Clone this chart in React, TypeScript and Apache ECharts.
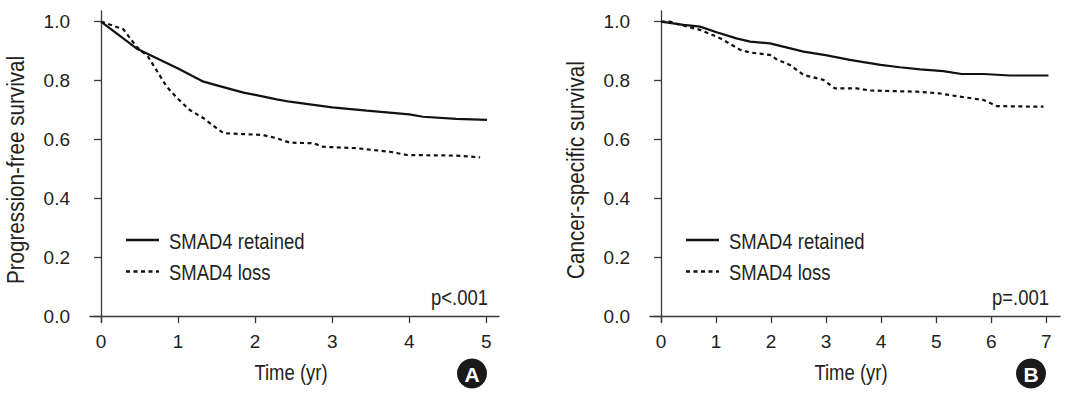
import React, { useEffect, useRef } from "react";
import * as echarts from "echarts";

// Panel A: progression-free survival (years)
const pfsRetainedX = [0, 0.46, 1.0, 1.33, 1.54, 1.85, 2.0, 2.28, 2.45, 2.71, 3.0, 3.45, 4.0, 4.18, 4.61, 5.01];
const pfsRetainedY = [1.0, 0.909, 0.841, 0.796, 0.781, 0.759, 0.751, 0.736, 0.728, 0.719, 0.709, 0.698, 0.685, 0.677, 0.67, 0.666];
const pfsLossX = [0, 0.29, 0.46, 0.61, 0.85, 0.99, 1.15, 1.33, 1.5, 1.59, 1.85, 2.1, 2.28, 2.45, 2.76, 2.88, 3.32, 3.75, 3.97, 4.61, 4.92];
const pfsLossY = [1.0, 0.974, 0.915, 0.881, 0.78, 0.74, 0.7, 0.672, 0.638, 0.621, 0.618, 0.615, 0.604, 0.589, 0.587, 0.575, 0.57, 0.558, 0.547, 0.545, 0.539];

// Panel B: cancer-specific survival (years)
const cssRetainedX = [0, 0.41, 0.71, 1.01, 1.37, 1.62, 1.98, 2.22, 2.59, 2.99, 3.43, 3.99, 4.34, 4.71, 5.13, 5.46, 5.86, 6.34, 7.04];
const cssRetainedY = [1.0, 0.989, 0.983, 0.964, 0.943, 0.932, 0.926, 0.915, 0.898, 0.886, 0.87, 0.853, 0.845, 0.838, 0.832, 0.822, 0.822, 0.817, 0.817];
const cssLossX = [0, 0.16, 0.35, 0.71, 1.01, 1.13, 1.44, 1.62, 1.98, 2.1, 2.34, 2.59, 2.95, 3.16, 3.56, 3.8, 4.65, 5.07, 5.43, 5.86, 6.1, 6.95];
const cssLossY = [1.0, 1.0, 0.989, 0.972, 0.949, 0.938, 0.904, 0.895, 0.887, 0.872, 0.853, 0.819, 0.802, 0.773, 0.773, 0.766, 0.762, 0.756, 0.745, 0.734, 0.713, 0.711];

const xTicksA = [0, 1, 2, 3, 4, 5];
const xTicksB = [0, 1, 2, 3, 4, 5, 6, 7];
const yTicks = [0, 0.2, 0.4, 0.6, 0.8, 1.0];

const seriesNames = ["SMAD4 retained", "SMAD4 loss"];
const yNames = ["Progression-free survival", "Cancer-specific survival"];
const xName = "Time (yr)";
const pValues = ["p<.001", "p=.001"];
const panelLabels = ["A", "B"];

const FONT = "'Liberation Sans', Arial, Helvetica, sans-serif";
const TXT = "#231f20";
const AX = "#3a3a3a";
const SX = 0.84; // horizontal condensing of label text

const zip = (xs: number[], ys: number[]) => xs.map((x, i) => [x, ys[i]]);

export default function App() {
  const ref = useRef<HTMLDivElement>(null);
  useEffect(() => {
    if (!ref.current) return;
    const chart = echarts.init(ref.current, undefined, { renderer: "svg" });

    const xAxisBase = (ticks: number[], min: number, max: number, gridIndex: number) => ({
      type: "value",
      gridIndex,
      min,
      max,
      axisLine: { show: true, onZero: true, lineStyle: { color: AX, width: 1.3 } },
      axisTick: { show: true, length: 7, customValues: ticks, lineStyle: { color: AX, width: 1.3 } },
      axisLabel: {
        customValues: ticks,
        margin: 10,
        fontSize: 19,
        fontFamily: FONT,
        color: TXT,
        formatter: (v: number) => String(Math.round(v)),
      },
      splitLine: { show: false },
    });
    const yAxisBase = (gridIndex: number) => ({
      type: "value",
      gridIndex,
      min: -0.02,
      max: 1.036,
      axisLine: { show: true, onZero: true, lineStyle: { color: AX, width: 1.3 } },
      axisTick: { show: true, length: 7, customValues: yTicks, lineStyle: { color: AX, width: 1.3 } },
      axisLabel: {
        customValues: yTicks,
        margin: 20,
        fontSize: 19,
        fontFamily: FONT,
        color: TXT,
        formatter: (v: number) => v.toFixed(1),
      },
      splitLine: { show: false },
    });

    const DASH = [4, 3.5];
    const lineSolid = { color: "#111", width: 2.2, type: "solid" };
    const lineDash = { color: "#111", width: 2.2, type: DASH };

    const mkSeries = (name: string, data: number[][], idx: number, dashed: boolean) => ({
      type: "line",
      name,
      xAxisIndex: idx,
      yAxisIndex: idx,
      data,
      symbol: "none",
      showSymbol: false,
      smooth: false,
      lineStyle: dashed ? lineDash : lineSolid,
      itemStyle: { color: "#111" },
      z: dashed ? 3 : 4,
    });

    const txt = (text: string, x: number, y: number, align: string, extra: any = {}, sx = SX) => ({
      type: "text",
      x,
      y,
      scaleX: sx,
      style: {
        text,
        fontSize: 22,
        fontFamily: FONT,
        fill: TXT,
        textAlign: align,
        textVerticalAlign: "middle",
        ...extra,
      },
    });

    const legendGraphics = (x0: number) => [
      { type: "line", shape: { x1: x0, y1: 240, x2: x0 + 33, y2: 240 }, style: { stroke: "#111", lineWidth: 2.3 } },
      {
        type: "line",
        shape: { x1: x0, y1: 271.5, x2: x0 + 33, y2: 271.5 },
        style: { stroke: "#111", lineWidth: 2.3, lineDash: DASH },
      },
      txt(seriesNames[0], x0 + 43, 241, "left"),
      txt(seriesNames[1], x0 + 43, 272, "left"),
    ];

    const option: any = {
      animation: false,
      backgroundColor: "#fff",
      grid: [
        { left: 90, top: 11, width: 409, height: 311, containLabel: false },
        { left: 650, top: 11, width: 410, height: 311, containLabel: false },
      ],
      xAxis: [xAxisBase(xTicksA, -0.143, 5.165, 0), xAxisBase(xTicksB, -0.2, 7.25, 1)],
      yAxis: [yAxisBase(0), yAxisBase(1)],
      series: [
        mkSeries(seriesNames[0], zip(pfsRetainedX, pfsRetainedY), 0, false),
        mkSeries(seriesNames[1], zip(pfsLossX, pfsLossY), 0, true),
        mkSeries(seriesNames[0], zip(cssRetainedX, cssRetainedY), 1, false),
        mkSeries(seriesNames[1], zip(cssLossX, cssLossY), 1, true),
      ],
      graphic: [
        ...legendGraphics(126),
        ...legendGraphics(686),
        { ...txt(yNames[0], 16, 170, "center", { fontSize: 24 }, 0.86), rotation: Math.PI / 2 },
        { ...txt(yNames[1], 576, 170, "center", { fontSize: 24 }, 0.86), rotation: Math.PI / 2 },
        txt(xName, 291, 372, "center"),
        txt(xName, 851, 372, "center"),
        txt(pValues[0], 488, 297, "right"),
        txt(pValues[1], 1049, 297, "right"),
        { type: "circle", shape: { cx: 472, cy: 373.5, r: 15 }, style: { fill: "#1a1a1a" } },
        { type: "circle", shape: { cx: 1031, cy: 373.5, r: 15 }, style: { fill: "#1a1a1a" } },
        txt(panelLabels[0], 472, 374.5, "center", { fill: "#fff", fontWeight: "bold", fontSize: 21 }, 1),
        txt(panelLabels[1], 1031, 374.5, "center", { fill: "#fff", fontWeight: "bold", fontSize: 21 }, 1),
      ],
    };
    chart.setOption(option);
    return () => chart.dispose();
  }, []);

  return (
    <div
      ref={ref}
      style={{ position: "fixed", left: 0, top: 0, width: 1079, height: 398, background: "#fff" }}
    />
  );
}
